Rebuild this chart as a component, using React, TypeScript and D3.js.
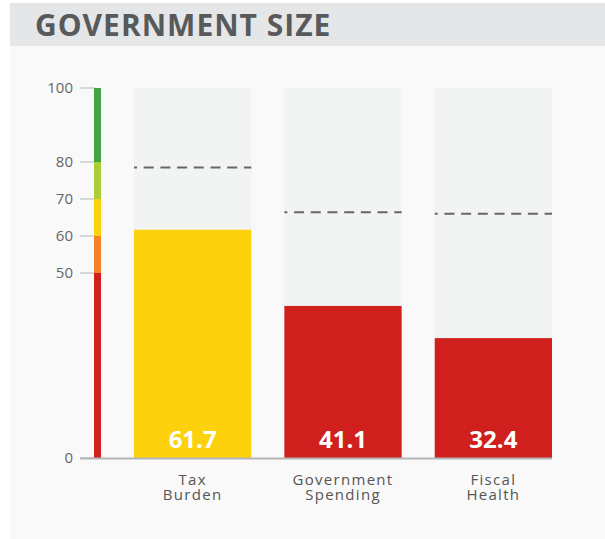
import React from "react";
import * as d3 from "d3";

const categories = [["Tax", "Burden"], ["Government", "Spending"], ["Fiscal", "Health"]];
const scores = [61.7, 41.1, 32.4];
const averages = [78.5, 66.4, 66.0];
const tickValues = [0, 50, 60, 70, 80, 100];
const bandStops = [0, 50, 60, 70, 80, 100];
const bandColors = ["#d0201e", "#f5822a", "#fdd20c", "#a8ce3a", "#43a343"];

function colorFor(v: number) {
  for (let i = 0; i < bandColors.length; i++) {
    if (v < bandStops[i + 1]) return bandColors[i];
  }
  return bandColors[bandColors.length - 1];
}

export default function App() {
  const W = 605, H = 539;
  const y = d3.scaleLinear().domain([0, 100]).range([458, 88]);
  const x = d3.scaleBand().domain(categories.map((c) => c.join(" "))).range([134, 552]).paddingInner(0.22).paddingOuter(0);
  const font = "'Open Sans', 'DejaVu Sans', sans-serif";
  return (
    <svg width={W} height={H} style={{ position: "absolute", left: 0, top: 0 }}>
      <rect x={0} y={0} width={W} height={H} fill="#ffffff" />
      <rect x={10} y={3} width={W - 10} height={H - 3} fill="#f9f9f9" />
      <rect x={10} y={3} width={W - 10} height={43} fill="#e5e6e7" />
      <text x={35} y={36} fontFamily={font} fontWeight={700} fontSize={30} letterSpacing={1} fill="#58595b">GOVERNMENT SIZE</text>

      {/* ticks */}
      {tickValues.map((t) => (
        <g key={t}>
          <line x1={80} x2={95} y1={y(t)} y2={y(t)} stroke="#b5b5b5" strokeWidth={1} />
          <text x={73} y={y(t) + 5} textAnchor="end" fontFamily={font} fontSize={15} fill="#666">{t}</text>
        </g>
      ))}
      {/* color band */}
      {bandColors.map((c, i) => (
        <rect key={c} x={94} width={7} y={y(bandStops[i + 1])} height={y(bandStops[i]) - y(bandStops[i + 1])} fill={c} />
      ))}

      {categories.map((c, i) => {
        const key = c.join(" ");
        const bx = x(key)!;
        const bw = x.bandwidth();
        const cx = bx + bw / 2;
        return (
          <g key={key}>
            <rect x={bx} y={y(100)} width={bw} height={y(0) - y(100)} fill="#f2f4f4" />
            <rect x={bx} y={y(scores[i])} width={bw} height={y(0) - y(scores[i])} fill={colorFor(scores[i])} />
            <line x1={bx} x2={bx + bw} y1={y(averages[i])} y2={y(averages[i])} stroke="#666" strokeWidth={2} strokeDasharray="10,6.7" strokeDashoffset={7} />
            <text x={cx} y={448} textAnchor="middle" fontFamily={font} fontWeight={700} fontSize={24} fill="#ffffff">{scores[i].toFixed(1)}</text>
            <text textAnchor="middle" fontFamily={font} fontSize={15} fill="#555" letterSpacing={1.3}>
              <tspan x={cx} y={485}>{c[0]}</tspan>
              <tspan x={cx} y={500}>{c[1]}</tspan>
            </text>
          </g>
        );
      })}
      <line x1={80} x2={552} y1={y(0) + 0.5} y2={y(0) + 0.5} stroke="#b5b5b5" strokeWidth={2} />
    </svg>
  );
}
